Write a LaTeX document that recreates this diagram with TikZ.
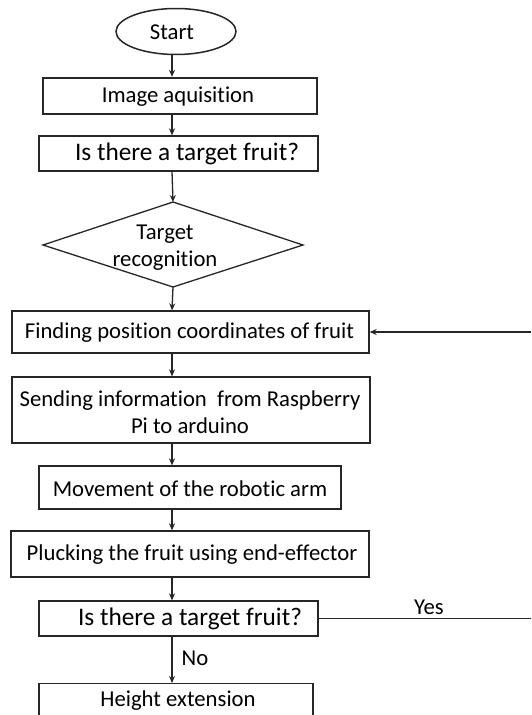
\documentclass[tikz,border=0pt]{standalone}
\usepackage{fontspec}
\setmainfont{Carlito}[Ligatures={NoCommon},Contextuals={NoAlternate}]
\usetikzlibrary{arrows.meta,shapes.geometric}
\begin{document}
\begin{tikzpicture}[x=1pt,y=-1pt,
  font=\fontsize{22.7}{27}\selectfont,
  box/.style={draw=black!85,line width=1.3pt,inner sep=0pt,anchor=center},
  arr/.style={draw=black!85,line width=1.3pt,-{Stealth[length=7pt,width=6pt]}},
  ln/.style={draw=black!85,line width=1.3pt},
  txt/.style={inner sep=0pt,anchor=center,align=center},
  qtxt/.style={txt,font=\fontsize{25.3}{30}\selectfont}]
\useasboundingbox (0,0) rectangle (531,715);
\clip (0,0) rectangle (531,715);
\fill[white] (0,0) rectangle (531,715);
\coordinate (ax) at (172,0);
% nodes
\node[draw=black!85,line width=1.5pt,ellipse,minimum width=120pt,minimum height=46pt,inner sep=0pt] (start) at (176,31.5) {};
\node[txt] (starttxt) at (172,32.5) {Start};
\node[box,line width=2.4pt,minimum width=274pt,minimum height=36pt] (img) at (180,96) {};
\node[txt] (imgtxt) at (178,97) {Image aquisition};
\node[box,minimum width=279pt,minimum height=35pt] (q1) at (178.5,153.5) {};
\node[qtxt] (q1txt) at (187,153.5) {Is there a target fruit?};
\coordinate (dt) at (173,202);
\coordinate (dr) at (303,245);
\coordinate (db) at (173,287);
\coordinate (dl) at (43,245);
\draw[ln,line join=miter] (dt) -- (dr) -- (db) -- (dl) -- cycle;
\node[txt] (rec) at (165,248) {Target\\recognition};
\node[box,minimum width=357pt,minimum height=42pt] (find) at (190.5,332) {};
\node[txt] (findtxt) at (189.5,333) {Finding position coordinates of fruit};
\node[box,minimum width=358pt,minimum height=66pt] (send) at (191,410) {};
\node[txt] (sendtxt) at (190,412) {Sending information\ \ from Raspberry\\Pi to arduino};
\node[box,minimum width=302pt,minimum height=43pt] (move) at (190,487.5) {};
\node[txt] (movetxt) at (190,488.5) {Movement of the robotic arm};
\node[box,minimum width=358pt,minimum height=46pt] (pluck) at (190,554) {};
\node[txt] (plucktxt) at (192,555) {Plucking the fruit using end-effector};
\node[box,minimum width=279pt,minimum height=35pt] (q2) at (178.5,618.5) {};
\node[qtxt] (q2txt) at (190,618.5) {Is there a target fruit?};
\node[box,minimum width=274pt,minimum height=60pt,anchor=north] (height) at (176,683) {};
\node[txt] (htxt) at (178,701) {Height extension};
\coordinate (re) at (531,332);
% connectors
\draw[arr] (start.south -| ax) -- (img.north -| ax);
\draw[arr] (img.south -| ax) -- (q1.north -| ax);
\draw[arr] (q1.south -| ax) -- (dt);
\draw[arr] (db) -- (find.north -| ax);
\draw[arr] (find.south -| ax) -- (send.north -| ax);
\draw[arr] (send.south -| ax) -- (move.north -| ax);
\draw[arr] (move.south -| ax) -- (pluck.north -| ax);
\draw[arr] (pluck.south -| ax) -- (q2.north -| ax);
\draw[arr] (q2.south -| ax) -- (height.north -| ax);
\draw[arr] (re) -- (find.east);
\draw[ln] (q2.east) -- (q2.east -| re);
\node[txt] (yes) at (429,607) {Yes};
\node[txt] (no) at (195,658) {No};
\end{tikzpicture}
\end{document}
